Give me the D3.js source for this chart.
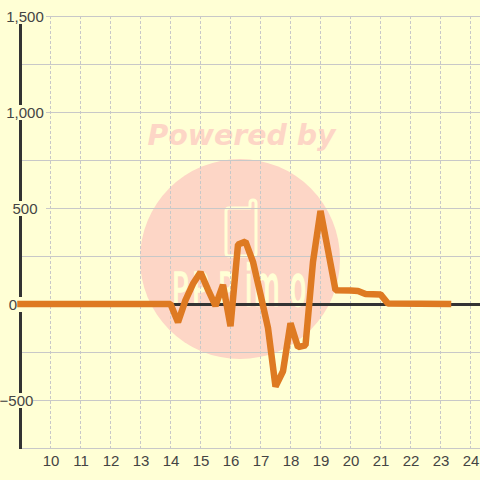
<!DOCTYPE html>
<html><head><meta charset="utf-8">
<script src="https://cdn.jsdelivr.net/npm/d3@7"></script>
<style>html,body{margin:0;padding:0;background:#ffffd5}svg{display:block}</style>
</head><body><svg id="c" width="480" height="480"></svg>
<script>
const hours=[9,14,14.25,14.5,14.75,15,15.25,15.5,15.75,16,16.25,16.5,16.75,17,17.25,17.5,17.75,18,18.25,18.5,18.75,19,19.25,19.5,20,20.25,20.5,21,21.25,23.25];
const values=[0,0,-95,20,105,165,75,-10,100,-115,310,325,220,50,-125,-430,-350,-100,-225,-215,220,485,280,72,70,68,52,50,2,0];
const xTicks=[10,11,12,13,14,15,16,17,18,19,20,21,22,23,24];
const yLabelled=[1500,1000,500,0,-500];
const yGrid=[1500,1250,1000,750,500,250,0,-250,-500,-750];
const x=d3.scaleLinear().domain([10,24]).range([50.5,470.5]);
const y=d3.scaleLinear().domain([1500,-750]).range([16.5,448.5]);
const s=d3.select('#c');
const bg='#ffffd5',wm='#fdd6c6',grid='#c8c8c8',ink='#444444',axisc='#333333',lc='#de7a22';
s.append('rect').attr('width',480).attr('height',480).attr('fill',bg);
// watermark
const w=s.append('g');
w.append('text').attr('x',241.5).attr('y',145).attr('text-anchor','middle').attr('font-family','DejaVu Sans').attr('font-weight','bold').attr('font-style','italic').attr('font-size',28.4).attr('fill',wm).text('Powered by');
w.append('circle').attr('cx',240).attr('cy',259).attr('r',100).attr('fill',wm);
w.append('path').attr('d','M250,207V203Q250,200 253,200Q256,200 256,203V253Q256,256 253,256H229Q226,256 226,253V211Q226,208 229,208H250').attr('fill','none').attr('stroke',bg).attr('stroke-width',3).attr('stroke-linecap','round');
w.append('text').attr('transform','scale(0.62,1)').attr('x',[172,192,218].map(v=>v/0.62).join(' ')).attr('y',305).attr('font-family','DejaVu Sans').attr('font-size',44).attr('fill',bg).attr('stroke',bg).attr('stroke-width',1.5).text('PPP');
w.append('text').attr('transform','scale(0.47,1)').attr('x',[245,254,290].map(v=>v/0.47).join(' ')).attr('y',305).attr('font-family','DejaVu Sans').attr('font-size',56).attr('fill',bg).attr('stroke',bg).attr('stroke-width',2.5).text('imo');
// grid
s.append('g').selectAll('line').data(xTicks).join('line').attr('x1',d=>x(d)).attr('x2',d=>x(d)).attr('y1',16).attr('y2',448).attr('stroke',grid).attr('stroke-dasharray','3,2');
s.append('g').selectAll('line').data(yGrid).join('line').attr('x1',20).attr('x2',480).attr('y1',d=>y(d)).attr('y2',d=>y(d)).attr('stroke',grid);
// axes
s.append('line').attr('x1',20.5).attr('x2',20.5).attr('y1',16).attr('y2',449).attr('stroke',axisc).attr('stroke-width',3);
s.append('line').attr('x1',20).attr('x2',480).attr('y1',y(0)).attr('y2',y(0)).attr('stroke',axisc).attr('stroke-width',3);
// y labels
const yl=s.append('g').selectAll('g').data(yLabelled).join('g');
yl.append('rect').attr('x',d=>d===0?4:0).attr('y',d=>y(d)-7.5).attr('width',d=>d===0?18:d===-500?33:46).attr('height',15).attr('fill',bg);
yl.append('text').attr('x',d=>d===0?13:d===-500?16.5:25).attr('y',d=>y(d)+5).attr('text-anchor','middle').attr('font-family','Liberation Sans').attr('font-size',15).attr('fill',ink).text(d=>d3.format(',')(d));
// x labels
s.append('g').selectAll('text').data(xTicks).join('text').attr('x',d=>x(d)+0.5).attr('y',465.5).attr('text-anchor','middle').attr('font-family','Liberation Sans').attr('font-size',15).attr('fill',ink).text(d=>d);
// line
const line=d3.line().x(d=>x(d[0])).y(d=>y(d[1]));
s.append('path').datum(hours.map((h,i)=>[h,values[i]])).attr('transform','translate(0,-0.5)').attr('d',line).attr('fill','none').attr('stroke',lc).attr('stroke-width',6.5).attr('stroke-linejoin','bevel').attr('stroke-linecap','square');
</script></body></html>
